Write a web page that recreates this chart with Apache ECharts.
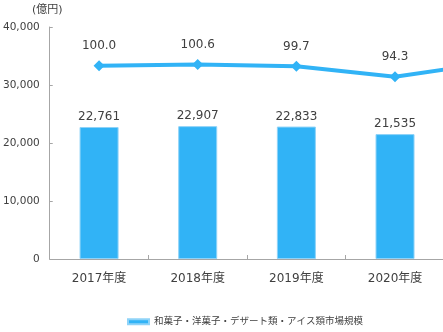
<!DOCTYPE html>
<html>
<head>
<meta charset="utf-8">
<script src="https://cdn.jsdelivr.net/npm/echarts@6/dist/echarts.min.js"></script>
<style>
html,body{margin:0;padding:0;overflow:hidden;background:#fff;width:443px;height:332px;}
#c{width:560px;height:332px;}
</style>
</head>
<body>
<div id="c"></div>
<script>
const categories = ['2017年度', '2018年度', '2019年度', '2020年度', '2021年度'];
const marketSize = [22761, 22907, 22833, 21535, 21900];
const yoyIndex = [100.0, 100.6, 99.7, 94.3, 101.7];
const yTicks = [0, 10000, 20000, 30000, 40000];
const seriesName = '和菓子・洋菓子・デザート類・アイス類市場規模';
const unitLabel = '(億円)';

const FONT = '"DejaVu Sans", "Noto Sans CJK JP", sans-serif';
const BLUE = '#31B3F6';
const TEXT = '#404040';

const chart = echarts.init(document.getElementById('c'), null, {renderer: 'canvas'});
chart.setOption({
  animation: false,
  textStyle: {fontFamily: FONT},
  grid: {left: 49, right: 17, top: 27, bottom: 73, containLabel: false},
  graphic: [{
    type: 'text', left: 32, top: 5,
    style: {text: unitLabel, fontSize: 11, fill: TEXT, fontFamily: FONT}
  }],
  legend: {
    data: [{name: seriesName, icon: 'rect'}],
    left: 122, top: 312,
    itemWidth: 21, itemHeight: 5, itemGap: 4,
    textStyle: {fontSize: 9.5, color: TEXT, fontFamily: FONT}
  },
  xAxis: {
    type: 'category',
    data: categories,
    axisLine: {lineStyle: {color: '#a6a6a6', width: 1}},
    axisTick: {show: true, inside: true, length: 4, lineStyle: {color: '#a6a6a6'}},
    axisLabel: {fontSize: 12, color: TEXT, margin: 14, fontFamily: FONT}
  },
  yAxis: [{
    type: 'value', min: yTicks[0], max: yTicks[yTicks.length - 1], interval: 10000,
    axisLine: {show: true, lineStyle: {color: '#a6a6a6'}},
    axisTick: {show: true, inside: true, length: 3, lineStyle: {color: '#a6a6a6'}},
    splitLine: {show: false},
    axisLabel: {
      fontSize: 10.5, color: TEXT, margin: 10, fontFamily: FONT,
      formatter: v => v.toLocaleString('en-US')
    }
  }, {
    type: 'value', min: 0, max: 120, show: false, splitLine: {show: false}
  }],
  series: [{
    name: seriesName,
    type: 'bar',
    data: marketSize,
    barWidth: 39,
    itemStyle: {color: BLUE, borderColor: '#8fd3f8', borderWidth: 1},
    label: {
      show: true, position: 'top', distance: 4,
      fontSize: 12, color: TEXT, fontFamily: FONT,
      formatter: p => p.value.toLocaleString('en-US')
    }
  }, {
    name: 'index',
    type: 'line',
    yAxisIndex: 1,
    data: yoyIndex,
    symbol: 'diamond', symbolSize: 11,
    lineStyle: {color: BLUE, width: 4},
    itemStyle: {color: BLUE},
    label: {
      show: true, position: 'top', distance: 8,
      fontSize: 12, color: TEXT, fontFamily: FONT,
      formatter: p => p.value.toFixed(1)
    }
  }]
});
</script>
</body>
</html>
